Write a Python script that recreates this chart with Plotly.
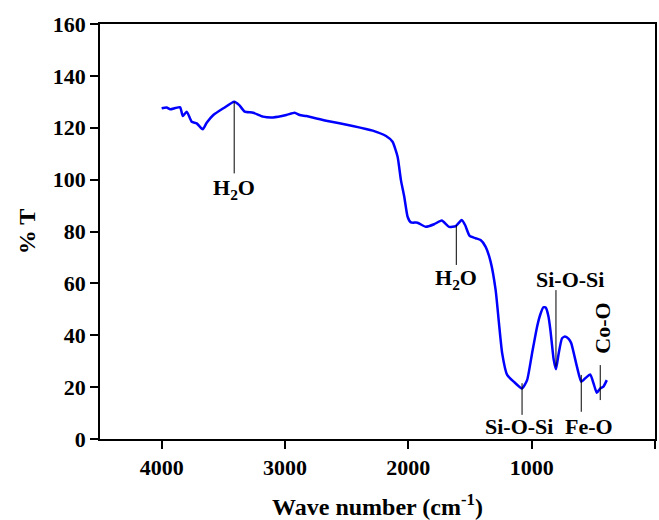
import plotly.graph_objects as go

# FTIR spectrum
wavenumber = [4000, 3960, 3931, 3890, 3850, 3829, 3797, 3756, 3716, 3667, 3635, 3581, 3500, 3412,
              3371, 3326, 3258, 3178, 3097, 2989, 2922, 2881, 2827, 2666, 2451, 2289,
              2181, 2128, 2087, 2060, 2033, 2006, 1979, 1926, 1858, 1791, 1729, 1670,
              1616, 1567, 1540, 1503, 1454, 1414, 1373, 1333, 1292, 1265, 1239, 1199,
              1145, 1078, 1037, 997, 956, 930, 905, 885, 865, 848, 821, 803, 781, 754, 730, 700, 679,
              633, 598, 566, 525, 498, 472, 444, 418, 391]
transmittance = [127.5, 127.8, 127.1, 127.6, 127.9, 124.5, 126.2, 122.3, 121.7, 119.4, 121.9, 124.9, 127.5, 130.0,
                 128.7, 126.2, 125.8, 124.3, 124.0, 124.9, 125.8, 124.9, 124.5, 122.7, 120.7, 118.9,
                 116.8, 114.6, 108.8, 99.8, 93.4, 85.7, 83.5, 83.4, 81.8, 82.8, 84.2, 81.8,
                 82.1, 84.4, 82.5, 78.3, 77.4, 76.7, 74.1, 68.4, 57.4, 44.6, 33.0, 24.7,
                 22.1, 19.5, 22.7, 33.0, 43.3, 48.0, 50.8, 50.6, 47.5, 42.0, 30.5, 26.9, 33.0, 38.8, 39.5, 38.6, 36.9,
                 27.9, 22.1, 23.4, 24.9, 21.4, 17.8, 19.5, 20.2, 22.7]

# Peak assignments: label, line x, line top y, line bottom y, label x, label y, label angle
label_text = ["H<sub>2</sub>O", "H<sub>2</sub>O", "Si-O-Si", "Si-O-Si", "Fe-O", "Co-O"]
line_x = [3412, 1611, 803, 1078, 598, 444]
line_y0 = [130.0, 82.5, 57.4, 21.5, 24.7, 28.5]
line_y1 = [102.4, 67.1, 27.9, 9.3, 10.5, 15.0]
label_x = [3412, 1611, 687, 1104, 533, 426]
label_y = [96.3, 61.6, 61.6, 4.7, 4.7, 42.7]
label_angle = [0, 0, 0, 0, 0, -90]

x_ticks = [4000, 3000, 2000, 1000, 0]
y_ticks = [0, 20, 40, 60, 80, 100, 120, 140, 160]

FONT = "Liberation Serif"

fig = go.Figure()
fig.add_trace(go.Scatter(x=wavenumber, y=transmittance, mode="lines",
                         line=dict(color="#0000FF", width=2.5, shape="spline", smoothing=0.5),
                         showlegend=False, hoverinfo="x+y"))

for i in range(len(label_text)):
    fig.add_shape(type="line", xref="x", yref="y", x0=line_x[i], x1=line_x[i],
                  y0=line_y0[i], y1=line_y1[i], line=dict(color="black", width=1))
    fig.add_annotation(x=label_x[i], y=label_y[i], xref="x", yref="y",
                       text="<b>" + label_text[i] + "</b>", showarrow=False,
                       textangle=label_angle[i],
                       font=dict(family=FONT, size=22, color="black"))

axis_common = dict(showline=True, linecolor="black", linewidth=1.5, mirror=True,
                   ticks="outside", ticklen=8, tickwidth=1.5, tickcolor="black",
                   showgrid=False, zeroline=False,
                   tickfont=dict(family=FONT, size=22, color="black"))

fig.update_xaxes(range=[4500, 0], tickvals=x_ticks, ticktext=[f"<b>{v}</b>" for v in x_ticks],
                 title=dict(text="<b>Wave number (cm<sup>-1</sup>)</b>",
                            font=dict(family=FONT, size=24, color="black"), standoff=20),
                 **axis_common)
fig.update_yaxes(range=[0, 160], tickvals=y_ticks, ticktext=[f"<b>{v}</b>" for v in y_ticks],
                 title=dict(text="<b>% T</b>", font=dict(family=FONT, size=24, color="black"),
                            standoff=10),
                 **axis_common)

fig.update_layout(width=659, height=520, margin=dict(l=100, r=2, t=24, b=81),
                  plot_bgcolor="white", paper_bgcolor="white")

fig.write_html("out.html")
